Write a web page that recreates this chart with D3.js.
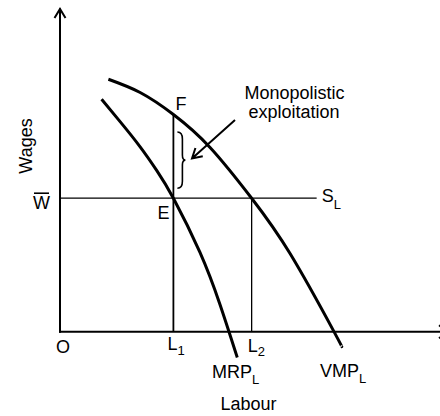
<!DOCTYPE html>
<html>
<head>
<meta charset="utf-8">
<script src="https://cdn.jsdelivr.net/npm/d3@7"></script>
<style>
  html, body { margin: 0; padding: 0; background: #fff; }
  svg { display: block; }
  text { font-family: "Liberation Sans", Arial, sans-serif; fill: #000; }
</style>
</head>
<body>
<svg id="chart" width="440" height="416"></svg>
<script>
// Labour market with monopolistic exploitation: VMP and MRP of labour
// Points are [labour, wage] in arbitrary units
const vmpCurve = [[1.28, 7.81], [2.12, 7.40], [3.0, 6.72], [3.97, 5.70],
                  [5.07, 4.13], [6.09, 2.41], [7.23, 0.04], [7.45, -0.46]];
const mrpCurve = [[1.10, 7.19], [1.59, 6.50], [2.12, 5.72], [2.57, 4.97],
                  [3.0, 4.13], [3.70, 2.46], [4.23, 0.85], [4.69, -0.80]];
const wageBar = 4.13;          // going wage, supply line S_L
const supplyEnd = 6.79;        // where the S_L line stops
const labourL1 = 3.0;          // employment where MRP = wage
const labourL2 = 5.07;         // employment where VMP = wage
const wageF = 6.72;            // VMP at L1

const svg = d3.select("#chart");
const x = d3.scaleLinear().domain([0, 10]).range([60, 438]);
const y = d3.scaleLinear().domain([0, 10]).range([331.7, 8.5]);

const line = d3.line().x(d => x(d[0])).y(d => y(d[1])).curve(d3.curveNatural);

// axes
const ax = svg.append("g").attr("stroke", "#000").attr("fill", "none");
ax.append("line").attr("x1", x(0)).attr("x2", x(0)).attr("y1", y(0) + 1).attr("y2", y(10))
  .attr("stroke-width", 2);
ax.append("path").attr("d", `M${x(0) - 5.5},${y(10) + 9.5} L${x(0)},${y(10) + 0.5} L${x(0) + 5.5},${y(10) + 9.5}`)
  .attr("stroke-width", 2);
ax.append("line").attr("x1", x(0) - 1).attr("x2", 448).attr("y1", y(0)).attr("y2", y(0))
  .attr("stroke-width", 2);
ax.append("path").attr("d", `M439,${y(0) - 6.5} L448,${y(0)} L439,${y(0) + 6.5}`)
  .attr("stroke-width", 2);

// guide lines
ax.append("line").attr("x1", x(0)).attr("x2", x(supplyEnd)).attr("y1", y(wageBar)).attr("y2", y(wageBar))
  .attr("stroke-width", 1.3);
ax.append("line").attr("x1", x(labourL1)).attr("x2", x(labourL1)).attr("y1", y(0)).attr("y2", y(wageF))
  .attr("stroke-width", 1.8);
ax.append("line").attr("x1", x(labourL2)).attr("x2", x(labourL2)).attr("y1", y(0)).attr("y2", y(wageBar))
  .attr("stroke-width", 1.3);

// curves
svg.append("path").datum(vmpCurve).attr("d", line)
  .attr("fill", "none").attr("stroke", "#000").attr("stroke-width", 3);
svg.append("path").datum(mrpCurve).attr("d", line)
  .attr("fill", "none").attr("stroke", "#000").attr("stroke-width", 3);

// brace between E and F
const bx = x(labourL1) + 4, by0 = y(wageF) + 17.5, by1 = y(wageBar) - 10, bm = (by0 + by1) / 2;
svg.append("path")
  .attr("d", `M${bx},${by0} Q${bx + 5},${by0} ${bx + 5},${by0 + 7} L${bx + 5},${bm - 5}
              Q${bx + 5},${bm} ${bx + 8},${bm} Q${bx + 5},${bm} ${bx + 5},${bm + 5}
              L${bx + 5},${by1 - 7} Q${bx + 5},${by1} ${bx},${by1}`)
  .attr("fill", "none").attr("stroke", "#000").attr("stroke-width", 1.6);

// annotation arrow
const a0 = [235, 120], a1 = [192, 158.5];
const ang = Math.atan2(a1[1] - a0[1], a1[0] - a0[0]);
const head = 11, spread = Math.PI / 6;
svg.append("path")
  .attr("d", `M${a0[0]},${a0[1]} L${a1[0]},${a1[1]}
              M${a1[0] - head * Math.cos(ang - spread)},${a1[1] - head * Math.sin(ang - spread)}
              L${a1[0]},${a1[1]}
              L${a1[0] - head * Math.cos(ang + spread)},${a1[1] - head * Math.sin(ang + spread)}`)
  .attr("fill", "none").attr("stroke", "#000").attr("stroke-width", 2);

// labels
const fs = 18, sub = 13;
const txt = (tx, ty, s, anchor) => svg.append("text").attr("x", tx).attr("y", ty)
  .attr("font-size", fs).attr("text-anchor", anchor || "start").text(s);
const subTxt = (tx, ty, s, sb, dy) => {
  const t = svg.append("text").attr("x", tx).attr("y", ty).attr("font-size", fs);
  t.append("tspan").text(s);
  t.append("tspan").attr("font-size", sub).attr("dy", dy).text(sb);
  return t;
};

svg.append("text").attr("transform", "translate(32,146) rotate(-90)")
  .attr("font-size", fs).attr("text-anchor", "middle").text("Wages");
txt(50, y(wageBar) + 11, "W", "end");
svg.append("line").attr("x1", 34).attr("x2", 49).attr("y1", y(wageBar) - 5).attr("y2", y(wageBar) - 5)
  .attr("stroke", "#000").attr("stroke-width", 1.6);
txt(56, 353, "O");
subTxt(x(labourL1) - 6, 350, "L", "1", 5);
subTxt(x(labourL2) - 4, 352, "L", "2", 4);
txt(x(labourL1) - 4, y(wageBar) + 21, "E", "end");
txt(x(labourL1) + 2, y(wageF) - 5, "F");
subTxt(x(supplyEnd) + 5, 202, "S", "L", 7);
subTxt(212, 378, "MRP", "L", 6);
subTxt(320, 377, "VMP", "L", 6);
txt(248.5, 410, "Labour", "middle");
txt(294.5, 99, "Monopolistic", "middle");
txt(294, 118, "exploitation", "middle");
</script>
</body>
</html>
